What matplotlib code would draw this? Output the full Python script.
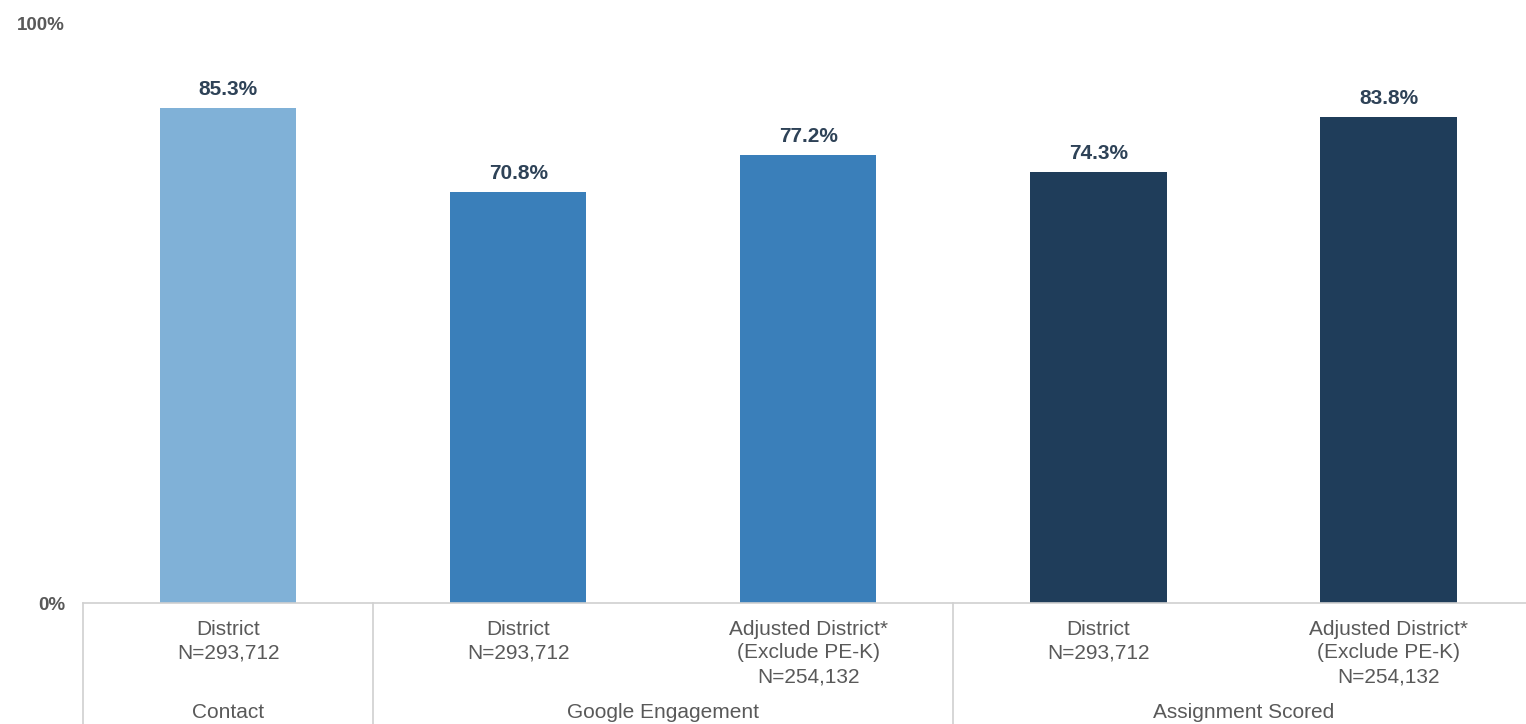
import matplotlib
matplotlib.use('Agg')
import matplotlib.pyplot as plt

# data
sub_labels = ['District\nN=293,712', 'District\nN=293,712',
              'Adjusted District*\n(Exclude PE-K)\nN=254,132',
              'District\nN=293,712',
              'Adjusted District*\n(Exclude PE-K)\nN=254,132']
values = [85.3, 70.8, 77.2, 74.3, 83.8]
groups = ['Contact', 'Google Engagement', 'Assignment Scored']
group_members = [[0], [1, 2], [3, 4]]
colors = ['#80b1d7', '#3a7fba', '#3a7fba', '#1f3d5a', '#1f3d5a']

plt.rcParams['font.family'] = ['Liberation Sans', 'DejaVu Sans']

fig = plt.figure(figsize=(15.26, 7.24), dpi=100)
ax = fig.add_axes([83 / 1526, 121 / 724, 1 - 83 / 1526 + 0.005, 580 / 724])

x = list(range(len(values)))
bars = ax.bar(x, values, width=0.47, color=colors, zorder=2)
for b, v in zip(bars, values):
    ax.text(b.get_x() + b.get_width() / 2, v + 1.6, f'{v:.1f}%',
            ha='center', va='bottom', fontsize=15, fontweight='bold',
            color='#2e4257')

ax.set_xlim(-0.5, len(values) - 0.5)
ax.set_ylim(0, 100)
ax.set_yticks([0, 100])
ax.set_yticklabels(['0%', '100%'], fontweight='bold', color='#595959',
                   fontsize=13.5)
ax.tick_params(axis='y', length=0, pad=13)
ax.set_xticks([])
for s in ['top', 'right', 'left']:
    ax.spines[s].set_visible(False)
ax.spines['bottom'].set_color('#d0d0d0')
ax.spines['bottom'].set_linewidth(1.2)

# category labels below axis
for xi, lab in zip(x, sub_labels):
    ax.annotate(lab, xy=(xi, 0), xycoords='data', xytext=(0, -12),
                textcoords='offset points', ha='center', va='top',
                fontsize=15, color='#595959', linespacing=1.32)

for g, members in zip(groups, group_members):
    cx = (members[0] + members[-1]) / 2
    ax.annotate(g, xy=(cx, 0), xycoords='data', xytext=(0, -72),
                textcoords='offset points', ha='center', va='top',
                fontsize=15, color='#595959')

# group separators
for members in group_members:
    xs = members[0] - 0.5
    ax.plot([xs, xs], [0, -22], color='#d0d0d0', lw=1.2, clip_on=False)

fig.savefig('out.png', dpi=100)
